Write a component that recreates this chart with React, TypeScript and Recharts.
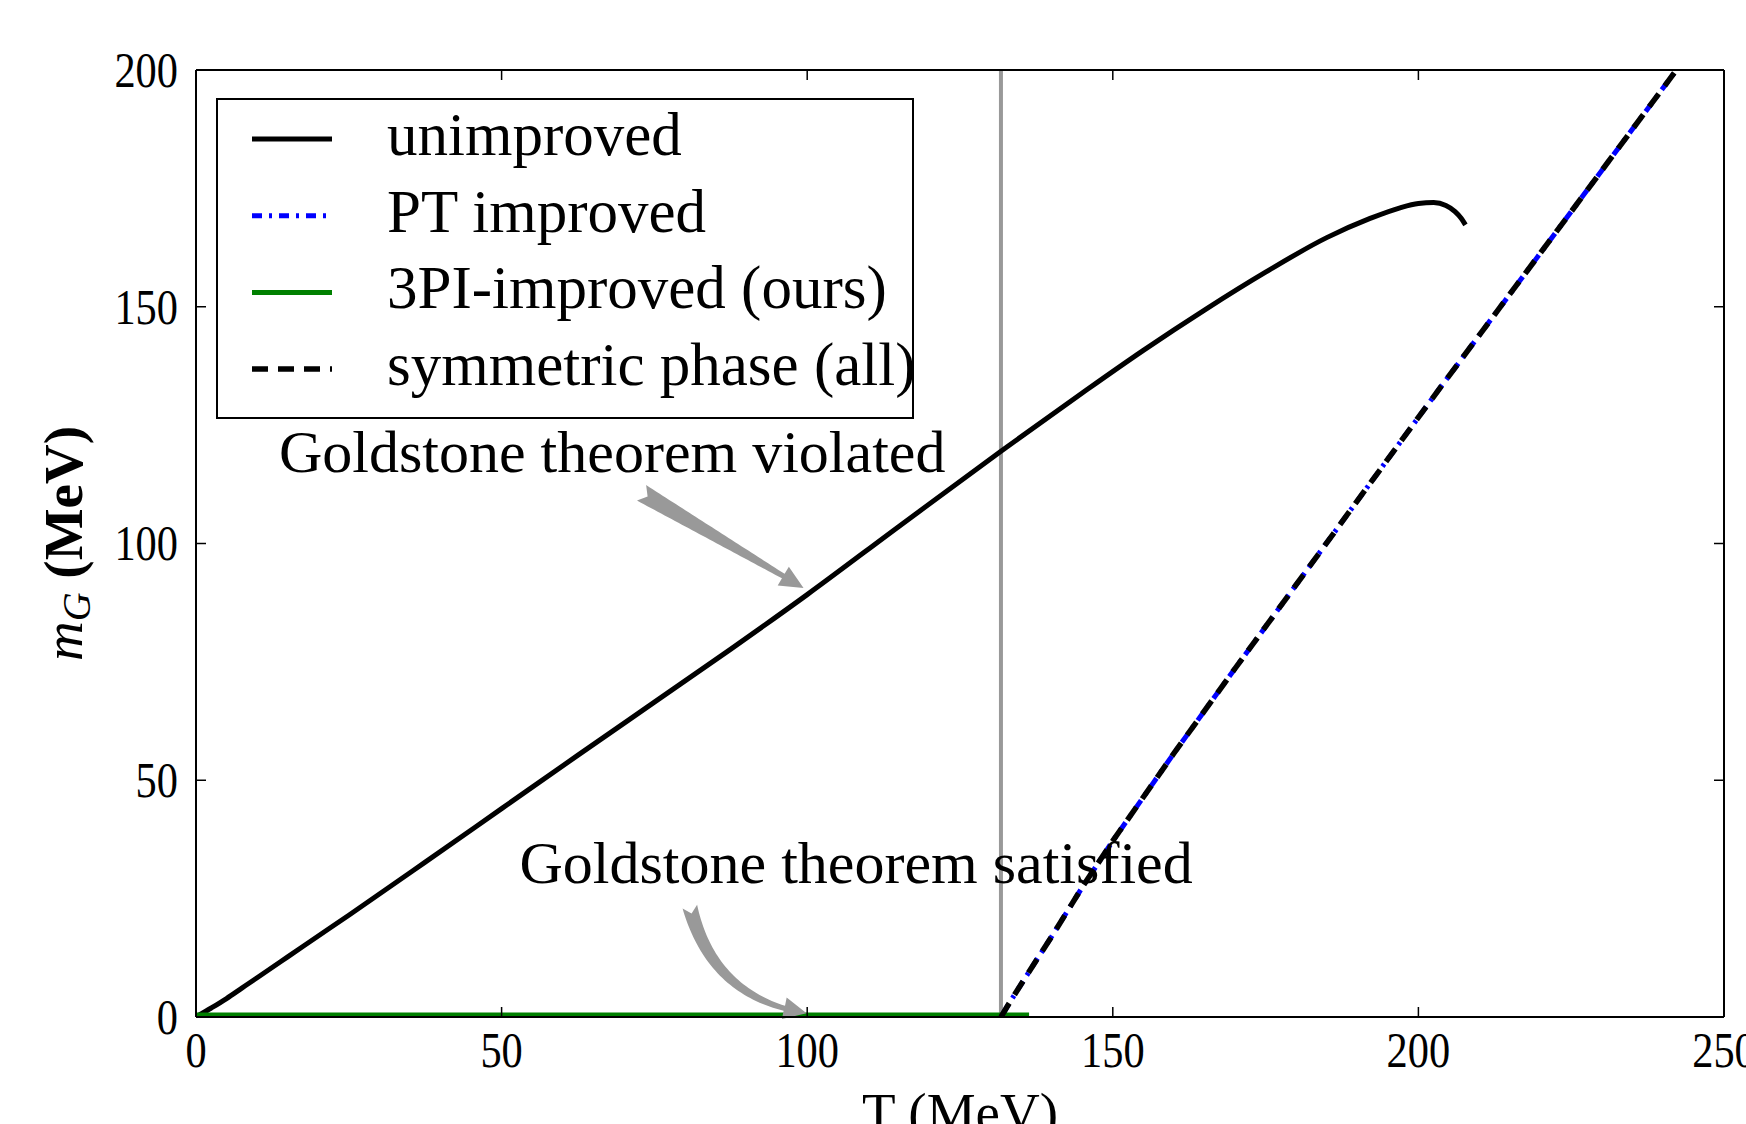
import React from "react";
import {
  LineChart,
  Line,
  XAxis,
  YAxis,
  ReferenceLine,
  ReferenceDot,
  Legend,
} from "recharts";

const FONT = '"Liberation Serif", "DejaVu Serif", serif';

// axis ticks
const xTicks = [0, 50, 100, 150, 200, 250];
const yTicks = [0, 50, 100, 150, 200];

// unimproved (broken phase, Goldstone theorem violated)
const unimprovedT = [
  0, 2.5, 5, 7.5, 10, 15, 20, 25, 37.5, 50, 62.5, 75, 87.5, 100, 115, 131.7,
  145, 155, 165, 175, 185, 192, 197, 200, 202.5, 204.5, 206, 207, 207.7,
];
const unimprovedM = [
  0, 1.9, 3.9, 6.1, 8.3, 12.7, 17.1, 21.5, 32.7, 44, 55.3, 66.5, 77.7, 89.2,
  103.6, 119.5, 131.8, 140.8, 149.3, 157.3, 164.6, 168.6, 170.9, 171.8, 172,
  171.4, 170.1, 168.7, 167.3,
];

// PT improved
const ptT = [
  0, 131.7, 133, 135, 137.5, 140, 142.5, 145, 150, 156.6, 160, 170, 178.2, 190,
  203.1, 220, 242.1, 243,
];
const ptM = [
  0, 0, 2.8, 6.9, 12, 17, 22.2, 27.4, 37.2, 49.4, 55.7, 73.6, 88.1, 109, 132.1,
  161.4, 199.8, 201.4,
];

// 3PI-improved (ours)
const threePiT = [0, 136.3];
const threePiM = [0.4, 0.4];

// symmetric phase (all)
const symT = [
  131.7, 133, 135, 137.5, 140, 142.5, 145, 150, 156.6, 160, 170, 178.2, 190,
  203.1, 220, 242.1, 243,
];
const symM = [
  0, 2.8, 6.9, 12, 17, 22.2, 27.4, 37.2, 49.4, 55.7, 73.6, 88.1, 109, 132.1,
  161.4, 199.8, 201.4,
];

const criticalT = 131.7;

const legendLabels = [
  "unimproved",
  "PT improved",
  "3PI-improved (ours)",
  "symmetric phase (all)",
];
const violatedText = "Goldstone theorem violated";
const satisfiedText = "Goldstone theorem satisfied";

const toRows = (ts: number[], ms: number[]) =>
  ts.map((T, i) => ({ T, m: ms[i] }));

const unimprovedData = toRows(unimprovedT, unimprovedM);
const ptData = toRows(ptT, ptM);
const threePiData = toRows(threePiT, threePiM);
const symData = toRows(symT, symM);

const seriesStyle = [
  { stroke: "#000000", width: 5, dash: undefined as string | undefined },
  { stroke: "#0000ff", width: 5, dash: "10 7 3 7" },
  { stroke: "#008000", width: 5, dash: undefined },
  { stroke: "#000000", width: 5.5, dash: "16 10" },
];

// gray "fancy" arrow drawn along a quadratic curve between the segment ends
const fancyArrow = (bend: number, tailW: number) => (props: any) => {
  const { x1, y1, x2, y2 } = props;
  if (![x1, y1, x2, y2].every((v) => Number.isFinite(v))) return <g />;
  const cx = (x1 + x2) / 2 - bend * (y2 - y1);
  const cy = (y1 + y2) / 2 + bend * (x2 - x1);
  const N = 48;
  const pts: { x: number; y: number; tx: number; ty: number; s: number }[] = [];
  let s = 0;
  for (let i = 0; i <= N; i++) {
    const t = i / N;
    const x = (1 - t) * (1 - t) * x1 + 2 * (1 - t) * t * cx + t * t * x2;
    const y = (1 - t) * (1 - t) * y1 + 2 * (1 - t) * t * cy + t * t * y2;
    const tx = 2 * (1 - t) * (cx - x1) + 2 * t * (x2 - cx);
    const ty = 2 * (1 - t) * (cy - y1) + 2 * t * (y2 - cy);
    if (i > 0) s += Math.hypot(x - pts[i - 1].x, y - pts[i - 1].y);
    pts.push({ x, y, tx, ty, s });
  }
  const L = s;
  const headLen = 21;
  const headW = 22;
  const neckW = 5;
  const bodyEnd = L - headLen;
  const body = pts.filter((p) => p.s <= bodyEnd);
  const left: string[] = [];
  const right: string[] = [];
  body.forEach((p) => {
    const len = Math.hypot(p.tx, p.ty) || 1;
    const nx = -p.ty / len;
    const ny = p.tx / len;
    const w = (tailW + (neckW - tailW) * (p.s / bodyEnd)) / 2;
    left.push(`${p.x + nx * w},${p.y + ny * w}`);
    right.unshift(`${p.x - nx * w},${p.y - ny * w}`);
  });
  const base = body[body.length - 1];
  const dx = x2 - base.x;
  const dy = y2 - base.y;
  const dl = Math.hypot(dx, dy) || 1;
  const hx = -dy / dl;
  const hy = dx / dl;
  const first = pts[0];
  const fl = Math.hypot(first.tx, first.ty) || 1;
  const notch = `${first.x + (first.tx / fl) * 7},${first.y + (first.ty / fl) * 7}`;
  const d =
    `M${left.join(" L")} ` +
    `L${base.x + (hx * headW) / 2},${base.y + (hy * headW) / 2} ` +
    `L${x2},${y2} ` +
    `L${base.x - (hx * headW) / 2},${base.y - (hy * headW) / 2} ` +
    `L${right.join(" L")} L${notch} Z`;
  return <path d={d} fill="#999999" stroke="none" />;
};

const annotationLabel = (text: string) => (props: any) => {
  const vb = props.viewBox || {};
  const x = (vb.x || 0) + (vb.width || 0) / 2;
  const y = (vb.y || 0) + (vb.height || 0) / 2;
  return (
    <text
      x={x}
      y={y}
      dy="0.355em"
      textAnchor="middle"
      fontFamily={FONT}
      fontSize={60}
      fill="#000"
    >
      {text}
    </text>
  );
};

const renderXTick = (props: any) => {
  const { x, y, payload } = props;
  const s = String(payload.value);
  return (
    <text
      x={x}
      y={y}
      dy="0.71em"
      textAnchor="middle"
      fontFamily={FONT}
      fontSize={51}
      fill="#000"
      textLength={s.length * 21.2}
      lengthAdjust="spacingAndGlyphs"
    >
      {s}
    </text>
  );
};

const renderYTick = (props: any) => {
  const { x, y, payload } = props;
  const s = String(payload.value);
  return (
    <text
      x={x}
      y={y}
      dy="0.33em"
      textAnchor="end"
      fontFamily={FONT}
      fontSize={51}
      fill="#000"
      textLength={s.length * 21.2}
      lengthAdjust="spacingAndGlyphs"
    >
      {s}
    </text>
  );
};

const blankTick = () => <g />;

const renderXLabel = (props: any) => {
  const vb = props.viewBox;
  return (
    <text
      x={vb.x + vb.width / 2}
      y={vb.y + 114}
      textAnchor="middle"
      fontFamily={FONT}
      fontSize={55}
      fill="#000"
    >
      T (MeV)
    </text>
  );
};

const renderYLabel = (props: any) => {
  const vb = props.viewBox;
  const cx = vb.x + 62;
  const cy = vb.y + vb.height / 2;
  return (
    <text
      x={cx}
      y={cy}
      transform={`rotate(-90 ${cx} ${cy})`}
      textAnchor="middle"
      fontFamily={FONT}
      fontSize={55}
      fill="#000"
    >
      <tspan fontStyle="italic">m</tspan>
      <tspan fontStyle="italic" fontSize={40} dy={8}>
        G
      </tspan>
      <tspan dy={-8} fontWeight="bold">
        {" (MeV)"}
      </tspan>
    </text>
  );
};

const renderLegend = () => (
  <svg width={698} height={321} style={{ display: "block", overflow: "visible" }}>
    <rect x={1} y={1} width={696} height={319} fill="#fff" stroke="#000" strokeWidth={2} />
    {legendLabels.map((label, i) => {
      const cy = 41 + i * 76.7;
      const st = seriesStyle[i];
      return (
        <g key={label}>
          <line
            x1={36}
            x2={116}
            y1={cy}
            y2={cy}
            stroke={st.stroke}
            strokeWidth={st.width}
            strokeDasharray={st.dash}
          />
          <text x={171} y={cy + 16} fontFamily={FONT} fontSize={61} fill="#000">
            {label}
          </text>
        </g>
      );
    })}
  </svg>
);

function App() {
  return (
    <div style={{ position: "absolute", left: 0, top: 0, background: "#fff" }}>
      <LineChart
        width={1746}
        height={1124}
        margin={{ top: 69, right: 21, bottom: 27, left: 20 }}
      >
        <XAxis
          dataKey="T"
          type="number"
          domain={[0, 250]}
          ticks={xTicks}
          interval={0}
          allowDataOverflow
          height={80}
          tickSize={-10}
          tickMargin={24}
          tick={renderXTick}
          axisLine={{ stroke: "#000", strokeWidth: 2 }}
          tickLine={{ stroke: "#000", strokeWidth: 1.5 }}
          label={renderXLabel}
        />
        <XAxis
          xAxisId="top"
          orientation="top"
          dataKey="T"
          type="number"
          domain={[0, 250]}
          ticks={xTicks}
          interval={0}
          allowDataOverflow
          height={1}
          tickSize={-10}
          tick={blankTick}
          axisLine={{ stroke: "#000", strokeWidth: 2 }}
          tickLine={{ stroke: "#000", strokeWidth: 1.5 }}
        />
        <YAxis
          type="number"
          domain={[0, 200]}
          ticks={yTicks}
          interval={0}
          allowDataOverflow
          width={176}
          tickSize={-10}
          tickMargin={28}
          tick={renderYTick}
          axisLine={{ stroke: "#000", strokeWidth: 2 }}
          tickLine={{ stroke: "#000", strokeWidth: 1.5 }}
          label={renderYLabel}
        />
        <YAxis
          yAxisId="right"
          orientation="right"
          type="number"
          domain={[0, 200]}
          ticks={yTicks}
          interval={0}
          allowDataOverflow
          width={1}
          tickSize={-10}
          tick={blankTick}
          axisLine={{ stroke: "#000", strokeWidth: 2 }}
          tickLine={{ stroke: "#000", strokeWidth: 1.5 }}
        />

        <ReferenceLine x={criticalT} stroke="#999999" strokeWidth={4} />

        <Line
          data={unimprovedData}
          dataKey="m"
          name={legendLabels[0]}
          type="monotone"
          stroke={seriesStyle[0].stroke}
          strokeWidth={seriesStyle[0].width}
          dot={false}
          activeDot={false}
          isAnimationActive={false}
        />
        <Line
          data={ptData}
          dataKey="m"
          name={legendLabels[1]}
          type="linear"
          stroke={seriesStyle[1].stroke}
          strokeWidth={seriesStyle[1].width}
          strokeDasharray={seriesStyle[1].dash}
          dot={false}
          activeDot={false}
          isAnimationActive={false}
        />
        <Line
          data={threePiData}
          dataKey="m"
          name={legendLabels[2]}
          type="linear"
          stroke={seriesStyle[2].stroke}
          strokeWidth={seriesStyle[2].width}
          dot={false}
          activeDot={false}
          isAnimationActive={false}
        />
        <Line
          data={symData}
          dataKey="m"
          name={legendLabels[3]}
          type="linear"
          stroke={seriesStyle[3].stroke}
          strokeWidth={seriesStyle[3].width}
          strokeDasharray={seriesStyle[3].dash}
          dot={false}
          activeDot={false}
          isAnimationActive={false}
        />

        <ReferenceLine
          segment={[
            { x: 72.9, y: 110.7 },
            { x: 99.4, y: 90.6 },
          ]}
          shape={fancyArrow(0, 18)}
        />
        <ReferenceLine
          segment={[
            { x: 80.8, y: 23.3 },
            { x: 99.9, y: 0.8 },
          ]}
          shape={fancyArrow(0.33, 15)}
        />
        <ReferenceDot
          x={68.1}
          y={119.7}
          r={0}
          fill="none"
          stroke="none"
          label={annotationLabel(violatedText)}
        />
        <ReferenceDot
          x={108}
          y={32.8}
          r={0}
          fill="none"
          stroke="none"
          label={annotationLabel(satisfiedText)}
        />

        <Legend
          layout="vertical"
          align="center"
          verticalAlign="middle"
          wrapperStyle={{ left: 216, top: 98, width: 698, height: 321 }}
          content={renderLegend}
        />
      </LineChart>
    </div>
  );
}

export default App;
